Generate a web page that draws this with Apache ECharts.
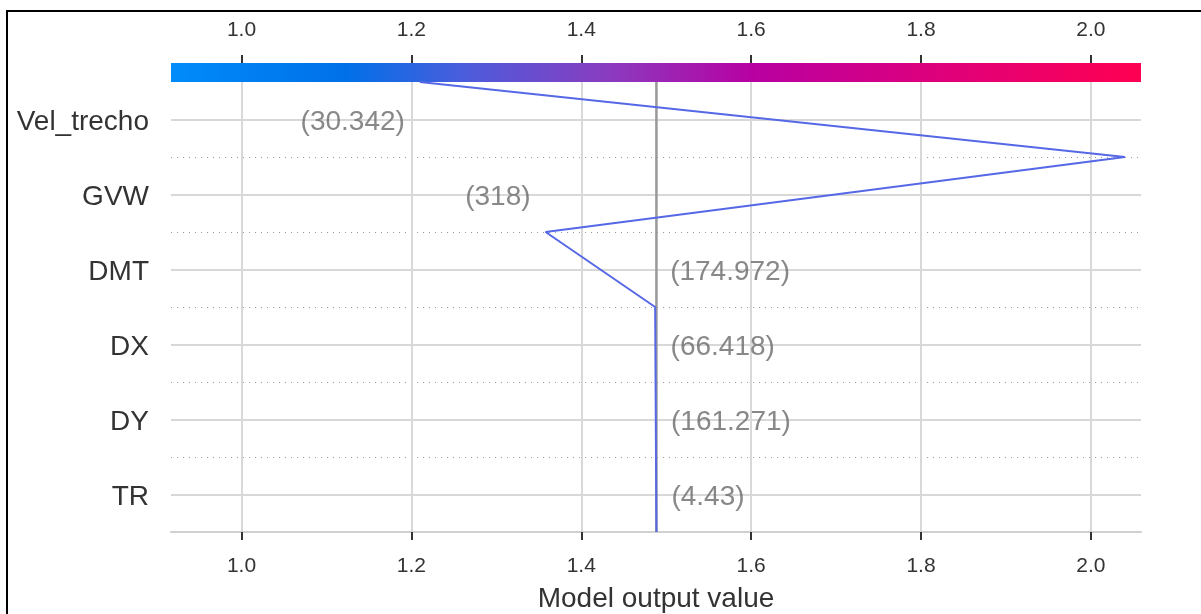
<!DOCTYPE html>
<html>
<head>
<meta charset="utf-8">
<script src="https://cdn.jsdelivr.net/npm/echarts@6/dist/echarts.min.js"></script>
<style>
  html, body { margin: 0; padding: 0; background: #fff; }
  #chart { width: 1201px; height: 614px; }
</style>
</head>
<body>
<div id="chart"></div>
<script>
// features, top to bottom, and their values
var features = ['Vel_trecho', 'GVW', 'DMT', 'DX', 'DY', 'TR'];
var featureValues = ['30.342', '318', '174.972', '66.418', '161.271', '4.43'];
// model output at each row boundary, from the top (prediction) down to the base value
var outputPath = [1.210, 2.040, 1.358, 1.487, 1.4875, 1.488, 1.4885];
var baseValue = 1.4885;
var xTicks = [1.0, 1.2, 1.4, 1.6, 1.8, 2.0];
var xRange = [0.917, 2.059];

var n = features.length;
var fontFam = '"Liberation Sans", Arial, sans-serif';

// line points: y = n at the top, 0 at the bottom
var pathData = outputPath.map(function (v, i) { return [v, n - i]; });

// row centres and feature value labels (left of the segment when it sits right of the base value)
var rowCenters = features.map(function (f, i) { return n - 0.5 - i; });
var labelData = features.map(function (f, i) {
    var a = outputPath[i], b = outputPath[i + 1];
    var onLeft = (a + b) / 2 > baseValue;
    return {
        value: [onLeft ? Math.min(a, b) : Math.max(a, b), n - 0.5 - i],
        label: { position: onLeft ? 'left' : 'right', formatter: '{t|(' + featureValues[i] + ')}' }
    };
});

var chart = echarts.init(document.getElementById('chart'));

var option = {
    animation: false,
    textStyle: { fontFamily: fontFam },
    graphic: [{
        type: 'rect',
        shape: { x: 7, y: 11, width: 1230, height: 650 },
        style: { fill: 'none', stroke: '#000', lineWidth: 2 },
        silent: true
    }],
    grid: [
        { left: 171, right: 60, top: 82, bottom: 82, outerBoundsMode: 'none', containLabel: false },
        {
            // colour bar
            left: 171, right: 60, top: 63, height: 19, outerBoundsMode: 'none', containLabel: false,
            show: true, borderWidth: 0,
            backgroundColor: new echarts.graphic.LinearGradient(0, 0, 1, 0, [
                { offset: 0, color: '#008bfb' },
                { offset: 0.18, color: '#0070e8' },
                { offset: 0.3, color: '#4a5ddc' },
                { offset: 0.45, color: '#8a3cc0' },
                { offset: 0.6, color: '#b800a2' },
                { offset: 0.78, color: '#dc007e' },
                { offset: 1, color: '#ff0052' }
            ])
        },
        // strip above the colour bar holding its ticks and labels
        { left: 171, right: 60, top: 50, height: 13, outerBoundsMode: 'none', containLabel: false }
    ],
    xAxis: [
        {
            type: 'value', gridIndex: 0, min: xRange[0], max: xRange[1],
            axisLine: { show: true, onZero: false, lineStyle: { color: '#d0d0d0', width: 2 } },
            axisTick: { show: true, length: 8, customValues: xTicks, lineStyle: { color: '#333', width: 2 } },
            axisLabel: {
                customValues: xTicks, margin: 24, color: '#333', fontSize: 21,
                formatter: function (v) { return v.toFixed(1); }
            },
            splitLine: { show: true, lineStyle: { color: '#d8d8d8', width: 2 } },
            name: 'Model output value', nameLocation: 'middle', nameGap: 53,
            nameTextStyle: { color: '#333', fontSize: 28 }
        },
        { type: 'value', gridIndex: 1, min: 0, max: 1, show: false },
        {
            type: 'value', gridIndex: 2, position: 'bottom', min: xRange[0], max: xRange[1],
            axisLine: { show: false, onZero: false },
            axisTick: { show: true, inside: true, length: 8, customValues: xTicks, lineStyle: { color: '#333', width: 2 } },
            axisLabel: {
                inside: true, customValues: xTicks, margin: 22, color: '#333', fontSize: 21,
                formatter: function (v) { return v.toFixed(1); }
            },
            splitLine: { show: false }
        }
    ],
    yAxis: [
        {
            type: 'value', gridIndex: 0, min: 0, max: n,
            axisLine: { show: false },
            axisTick: { show: false, customValues: rowCenters },
            axisLabel: {
                customValues: rowCenters, margin: 22, color: '#333', fontSize: 28,
                formatter: function (v) { return '{t|' + features[n - 1 - Math.floor(v)] + '}'; },
                rich: { t: { fontSize: 28, color: '#333', padding: [6, 0, 0, 0] } }
            },
            splitLine: { show: true, lineStyle: { color: '#d8d8d8', width: 2 } }
        },
        {
            type: 'value', gridIndex: 0, min: 0, max: n, interval: 1,
            axisLine: { show: false }, axisTick: { show: false }, axisLabel: { show: false },
            splitLine: { show: true, showMinLine: false, showMaxLine: false,
                lineStyle: { color: '#9a9a9a', width: 1, type: [1, 5] } }
        },
        { type: 'value', gridIndex: 1, min: 0, max: 1, show: false },
        { type: 'value', gridIndex: 2, min: 0, max: 1, show: false }
    ],
    series: [
        {
            type: 'line', xAxisIndex: 0, yAxisIndex: 0, z: 2, silent: true,
            data: [[baseValue, 0], [baseValue, n]],
            symbol: 'none',
            lineStyle: { color: '#999', width: 2.5 }
        },
        {
            type: 'line', xAxisIndex: 0, yAxisIndex: 0, z: 3,
            data: pathData,
            symbol: 'none',
            lineStyle: { color: '#5668e6', width: 2 }
        },
        {
            type: 'scatter', xAxisIndex: 0, yAxisIndex: 0, z: 4,
            symbolSize: 0,
            data: labelData,
            label: {
                show: true, distance: 15,
                rich: { t: { color: '#6a6a6a', fontSize: 28, padding: [6, 0, 0, 0] } }
            }
        }
    ]
};

chart.setOption(option);
</script>
</body>
</html>
